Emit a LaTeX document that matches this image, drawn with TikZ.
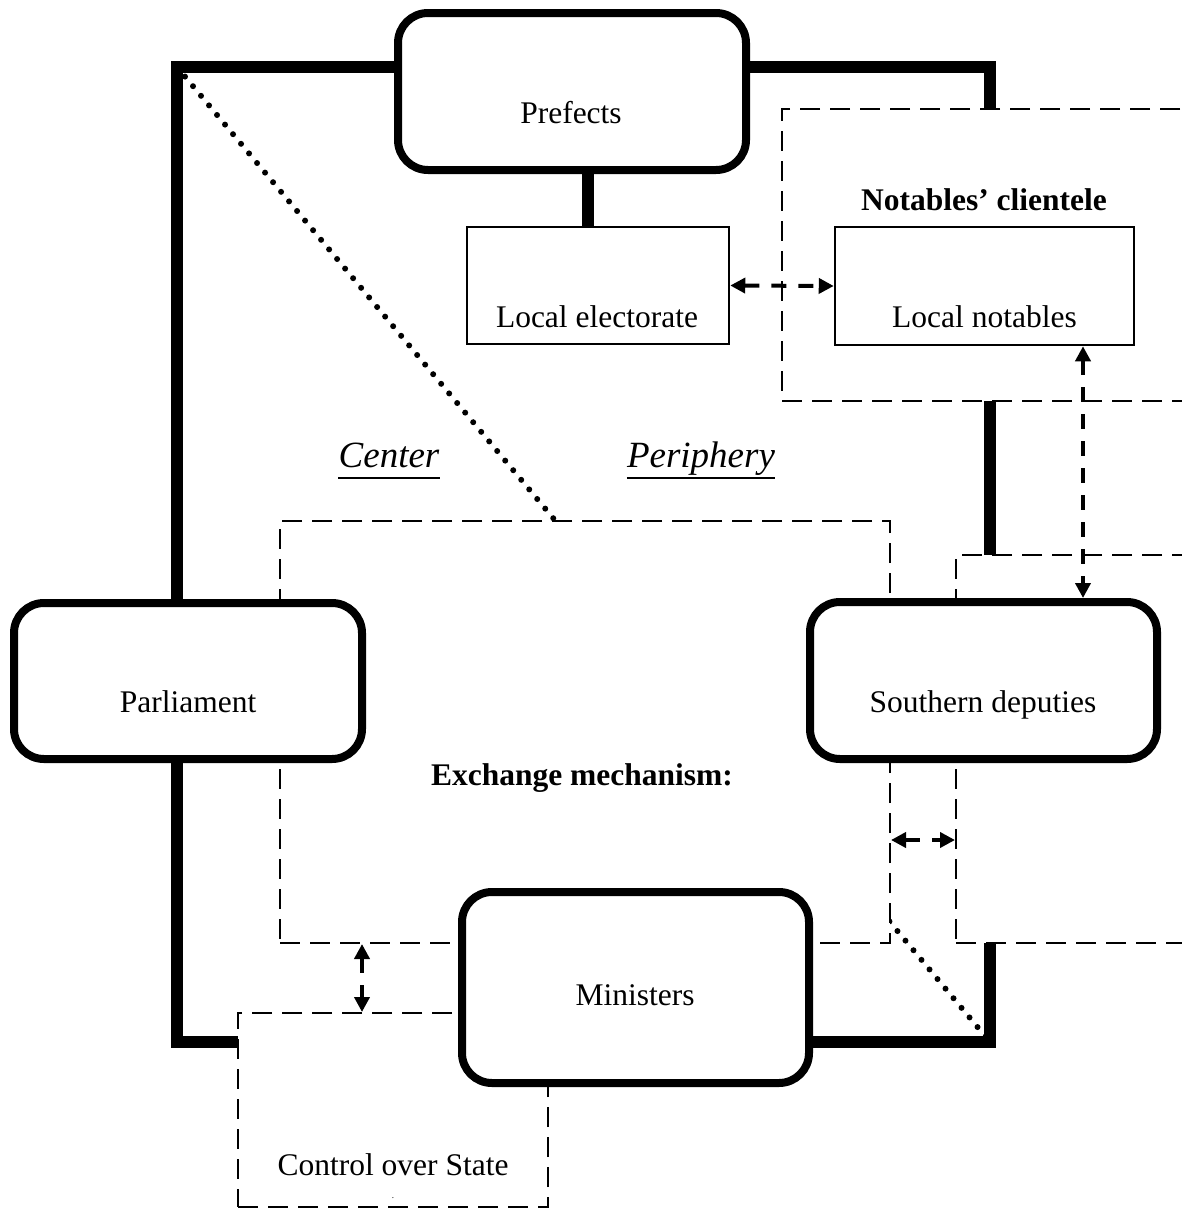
\documentclass[tikz,border=0pt]{standalone}
\usepackage{fontspec}
\setmainfont{Liberation Serif}
\usetikzlibrary{arrows.meta}
\begin{document}
\begin{tikzpicture}[x=1pt,y=-1pt,
  frame/.style={line width=11.5pt},
  rbox/.style={draw, line width=8pt, rounded corners=30pt, fill=white, inner sep=0pt},
  tbox/.style={draw, line width=2.5pt, fill=white, inner sep=0pt},
  dbox/.style={draw, line width=2pt, dash pattern=on 20pt off 10pt, fill=white, inner sep=0pt},
  dotl/.style={line width=6pt, line cap=round, dash pattern=on 0pt off 12.5pt},
  darr/.style={line width=4pt, dash pattern=on 15pt off 12pt,
     {Triangle[length=15pt,width=15pt]}-{Triangle[length=15pt,width=15pt]}},
  txt/.style={inner sep=0pt, anchor=base, font=\fontsize{31.5}{38}\selectfont},
  itxt/.style={inner sep=0pt, anchor=base, font=\fontsize{37}{44}\selectfont\itshape},
  uline/.style={line width=2pt}
]
\useasboundingbox (0,0) rectangle (1182,1210);
\clip (0,0) rectangle (1182,1210);
\fill[white] (0,0) rectangle (1182,1210);

% frame corners
\coordinate (TL) at (177,67);
\coordinate (TR) at (990,67);
\coordinate (BR) at (990,1042);
\coordinate (BL) at (177,1042);
\draw[frame] (TL) -- (TR) -- (BR) -- (BL) -- cycle;
\draw[dotl] (TL) -- (BR);

% dashed regions
\node[dbox, minimum width=428pt, minimum height=292pt] (clbox) at (996,255) {};
\node[dbox, minimum width=254pt, minimum height=388pt] (sbox) at (1083,749) {};
\node[dbox, minimum width=610pt, minimum height=422pt] (xbox) at (585,732) {};
\node[dbox, minimum width=310pt, minimum height=194pt] (ctrl) at (393,1110) {};

% solid boxes
\node[rbox, minimum width=348pt, minimum height=157pt] (pref) at (572,91.5) {};
\node[tbox, minimum width=262pt, minimum height=117pt] (lelec) at (598,285.5) {};
\node[tbox, minimum width=299pt, minimum height=118pt] (lnot) at (984.5,286) {};
\node[rbox, minimum width=348pt, minimum height=156pt] (parl) at (188,681) {};
\node[rbox, minimum width=347pt, minimum height=157pt] (sdep) at (983.5,680.5) {};
\node[rbox, minimum width=347pt, minimum height=191pt] (mini) at (635.5,987.5) {};

% connector Prefects -> Local electorate
\coordinate (pcx) at (588,0);
\draw[frame] (pref.south -| pcx) -- (lelec.north -| pcx);

% texts
\node[txt] (tpref) at (571,123) {Prefects};
\node[txt] (telec) at (597,327) {Local electorate};
\node[txt] (tnot) at (984.5,327) {Local notables};
\node[txt, font=\fontsize{31.5}{38}\selectfont\bfseries] (tcl) at (984,210) {Notables’ clientele};
\node[txt] (tparl) at (188,712) {Parliament};
\node[txt] (tsdep) at (983,712) {Southern deputies};
\node[txt] (tmini) at (635,1005) {Ministers};
\node[txt, font=\fontsize{31.5}{38}\selectfont\bfseries] (texch) at (582,785) {Exchange mechanism:};
\node[txt] (tctrl) at (393,1175) {Control over State};
\node[txt, font=\fontsize{9}{10}\selectfont] (tdot) at (393,1198) {.};
\node[itxt] (tcen) at (389,467) {Center};
\node[itxt] (tper) at (701,467) {Periphery};
\draw[uline] ([yshift=-11pt]tcen.base west) -- ([yshift=-11pt]tcen.base east);
\draw[uline] ([yshift=-11pt]tper.base west) -- ([yshift=-11pt]tper.base east);

% exchange arrows
\coordinate (ax) at (1083,0);
\coordinate (ay) at (0,840);
\coordinate (bx) at (362,0);
\draw[darr] (lelec.east) -- (lnot.west);
\draw[darr] (lnot.south -| ax) -- (sdep.north -| ax);
\draw[darr] (xbox.east |- ay) -- (sbox.west |- ay);
\draw[darr] (xbox.south -| bx) -- (ctrl.north -| bx);
\end{tikzpicture}
\end{document}
